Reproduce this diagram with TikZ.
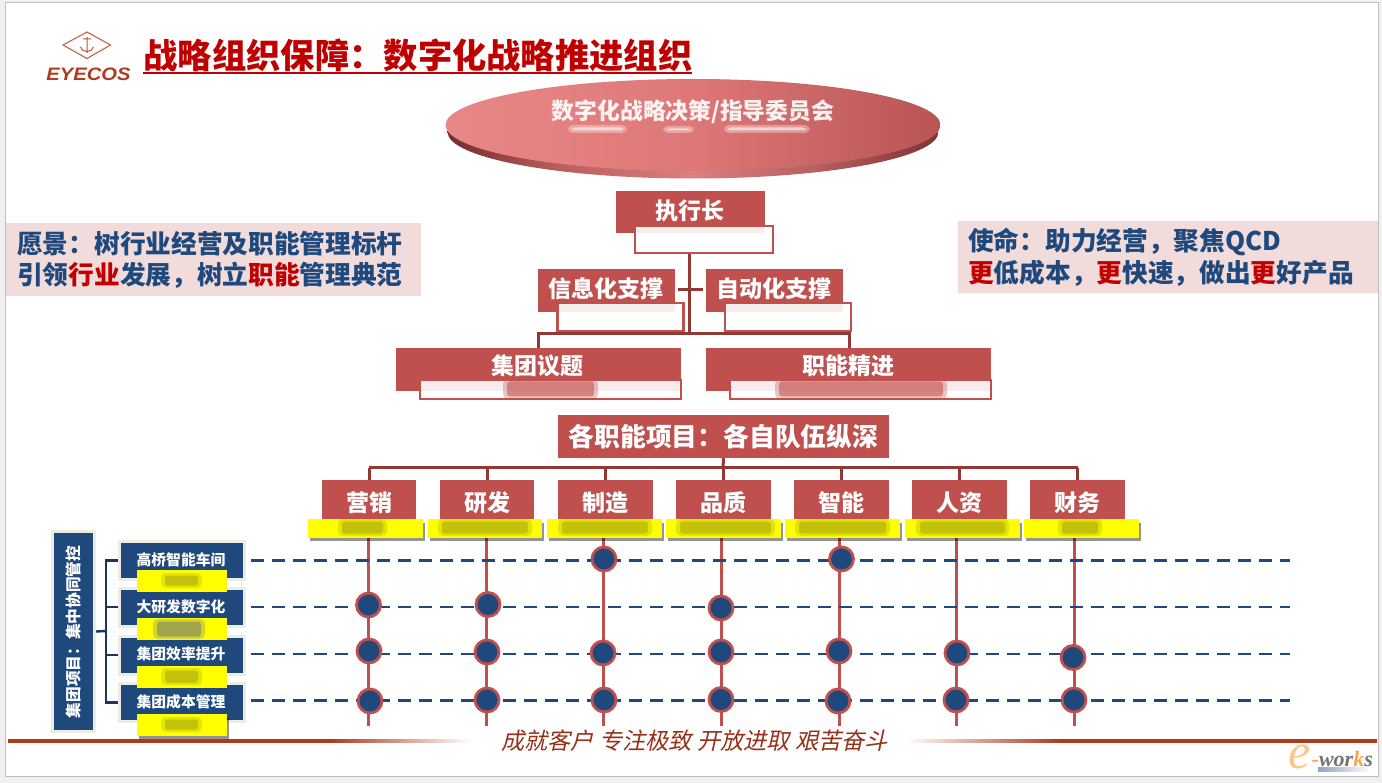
\documentclass[tikz,border=0pt]{standalone}
\usepackage{fontspec}
\setmainfont{Noto Sans CJK SC}
\newfontfamily\slantcjk[FakeSlant=0.22]{Noto Sans CJK SC}
\newfontfamily\latinbi{Liberation Serif}
\newfontfamily\latinsans{Liberation Sans}
\usetikzlibrary{shapes.geometric,shadows,calc}
\definecolor{rbox}{HTML}{C0504D}
\definecolor{rdark}{HTML}{953735}
\definecolor{navy}{HTML}{1F497D}
\definecolor{navyd}{HTML}{17375E}
\definecolor{beige}{HTML}{EEECE1}
\definecolor{pinkbg}{HTML}{F2DCDB}
\definecolor{tred}{HTML}{C00000}
\definecolor{brick}{HTML}{B03A1E}
\definecolor{smearc}{HTML}{A8A810}
\definecolor{smeargrey}{HTML}{7A7F70}
\definecolor{ypure}{HTML}{FFFF00}
\pgfdeclarehorizontalshading{disctop}{100bp}{rgb(0bp)=(.91,.53,.53);rgb(25bp)=(.91,.53,.53);rgb(50bp)=(.87,.47,.47);rgb(75bp)=(.72,.33,.33);rgb(100bp)=(.72,.33,.33)}
\pgfdeclarehorizontalshading{discedge}{100bp}{rgb(0bp)=(.45,.18,.18);rgb(25bp)=(.45,.18,.18);rgb(36bp)=(.72,.36,.36);rgb(50bp)=(.86,.50,.50);rgb(62bp)=(.72,.38,.38);rgb(75bp)=(.50,.20,.20);rgb(100bp)=(.50,.20,.20)}
\newcommand{\fsz}[1]{\fontsize{#1}{#1}\selectfont}
\newcommand{\rt}[1]{\textcolor{tred}{#1}}
% soft smudge: two nested rounded fills
\newcommand{\softblob}[5]{%
  \fill[#5,fill opacity=.32,rounded corners=5pt] (#1-2,#2-1) rectangle (#3+2,#4+1);
  \fill[#5,fill opacity=.55,rounded corners=3pt] (#1+2,#2+1.5) rectangle (#3-2,#4-1.5);
}
\tikzset{
  redbox/.style={fill=rbox,inner sep=0pt,text=white,font=\fsz{23}\bfseries},
  subbox/.style={draw=rbox,line width=2.6pt,fill=white,fill opacity=.9,inner sep=0pt},
  linkline/.style={draw=rdark,line width=3pt},
  yellowbox/.style={fill=ypure,inner sep=0pt,drop shadow={shadow xshift=1.5pt,shadow yshift=-3.5pt,fill=black,opacity=.42}},
  yellowflat/.style={fill=ypure,inner sep=0pt},
  bluebox/.style={fill=navy,draw=beige,line width=3pt,inner sep=0pt,text=white,font=\fsz{15}\bfseries},
  colline/.style={draw=rbox,line width=3pt},
  dashline/.style={draw=navy,line width=2.6pt,dash pattern=on 12.7pt off 8.3pt},
  dotnode/.style={circle,fill=navy,draw=rbox,line width=2.8pt,minimum size=24pt,inner sep=0pt},
  bracket/.style={draw=navyd,line width=2.4pt},
  panelline/.style={anchor=west,inner sep=0pt,text=navy,font=\fsz{25.7}\bfseries}
}
\begin{document}
\begin{tikzpicture}[x=1pt,y=-1pt]
\useasboundingbox (0,0) rectangle (1382,783);
\fill[black!6] (0,0) rectangle (1382,783);
\fill[white,draw=black!25,line width=1pt] (5.5,2.5) rectangle (1378,776);

% logo
\draw[brick!85,line width=1pt] (63,45) -- (87,32) -- (110.5,45) -- (87,58.5) -- cycle;
\draw[brick!85,line width=1pt] (87,37) -- (87,53) (83,39) -- (91,39) (80.5,47) .. controls (82,53) and (92,53) .. (93.5,47);
\node[inner sep=0pt,text=brick,xscale=1.12] (logotext) at (88.5,74) {\latinsans\fsz{18}\bfseries\itshape EYECOS};

% title
\node[inner sep=0pt,text=tred,font=\fsz{34.3}\bfseries] (title) at (418,55) {战略组织保障：数字化战略推进组织};
\draw[tred,line width=2.4pt] (143,73) -- (692,73);

% vision / mission
\fill[pinkbg] (6,223) rectangle (421,296);
\node[panelline] (vis1) at (17,244) {愿景：树行业经营及职能管理标杆};
\node[panelline] (vis2) at (17,275) {引领\rt{行业}发展，树立\rt{职能}管理典范};
\fill[pinkbg] (958,221) rectangle (1378,293);
\node[panelline] (mis1) at (968,242) {使命：助力经营，聚焦QCD};
\node[panelline] (mis2) at (968,273) {\rt{更}低成本，\rt{更}快速，做出\rt{更}好产品};

% committee ellipse
\node[ellipse,minimum width=491pt,minimum height=93pt,inner sep=0pt,shading=discedge] (boardbase) at (693,132) {};
\node[ellipse,minimum width=495pt,minimum height=92pt,inner sep=0pt,shading=disctop] (board) at (693,125) {};
\node[inner sep=0pt,text=white,font=\fsz{22.8}\bfseries,opacity=.9] (boardtext) at (693,112) {数字化战略决策/指导委员会};
\softblob{570}{126}{625}{132}{white}
\softblob{665}{127}{692}{132}{white}
\softblob{726}{126}{808}{132}{white}

% executive
\node[redbox,minimum width=149pt,minimum height=42pt] (ceo) at (690.5,212) {};
\node[subbox,minimum width=138pt,minimum height=27pt] (ceosub) at (704,239.5) {};
\node[inner sep=0pt,text=white,font=\fsz{23}\bfseries] (ceotext) at (689.5,210.5) {执行长};

% support
\node[redbox,minimum width=137pt,minimum height=43pt] (info) at (606.5,290.5) {};
\node[subbox,minimum width=126pt,minimum height=28pt] (infosub) at (620.5,317) {};
\node[inner sep=0pt,text=white,font=\fsz{23}\bfseries] (infotext) at (606,289) {信息化支撑};
\node[redbox,minimum width=137pt,minimum height=43pt] (auto) at (774.5,290.5) {};
\node[subbox,minimum width=126pt,minimum height=28pt] (autosub) at (788,317) {};
\node[inner sep=0pt,text=white,font=\fsz{23}\bfseries] (autotext) at (774,289) {自动化支撑};

% group / function
\node[redbox,minimum width=285pt,minimum height=43pt] (grp) at (538.5,369.5) {};
\node[subbox,minimum width=261pt,minimum height=19pt] (grpsub) at (550.5,389.5) {};
\softblob{505}{380}{596}{398}{rbox}
\node[inner sep=0pt,text=white,font=\fsz{23}\bfseries] (grptext) at (537.5,366) {集团议题};
\node[redbox,minimum width=285pt,minimum height=43pt] (fnc) at (848.5,369.5) {};
\node[subbox,minimum width=261pt,minimum height=19pt] (fncsub) at (860.5,389.5) {};
\softblob{777}{380}{945}{398}{rbox}
\node[inner sep=0pt,text=white,font=\fsz{23}\bfseries] (fnctext) at (848,366) {职能精进};

% connectors upper tree
\coordinate (busA) at (689,334);
\draw[linkline] (ceosub.south -| busA) -- (busA);
\draw[linkline] (678,290) coordinate (crossL) -- (703,290) coordinate (crossR);
\draw[linkline] (grp.north -| 538,0) -- (538,334) -- (849,334) -- (849,348);

% all functions
\node[redbox,minimum width=331pt,minimum height=43pt,font=\fsz{25.8}\bfseries] (allf) at (723.5,436.5) {各职能项目：各自队伍纵深};
\coordinate (bus) at (723,468);

% columns
\foreach \i/\cx/\bw/\nm in {1/369/94/营销,2/487/94/研发,3/605.5/95/制造,4/723.5/95/品质,5/841.5/95/智能,6/959.5/95/人资,7/1077.5/95/财务}{
  \node[redbox,minimum width=\bw pt,minimum height=39pt] (b\i) at (\cx,499.5) {};
  \node[inner sep=0pt,text=white,font=\fsz{23}\bfseries] (bt\i) at (\cx,503) {\nm};
}
\draw[linkline] (allf.south) -- (bus);
\draw[linkline] (b1.north |- bus) -- (b7.north |- bus);
\foreach \i in {1,...,7}{ \draw[linkline] (b\i.north |- bus) -- (b\i.north); }

% vertical lines (below yellow boxes)
\foreach \i/\lx in {1/368.5,2/486.5,3/603.5,4/721.5,5/839,6/956.5,7/1074}{
  \coordinate (ltop\i) at (\lx,530);
  \coordinate (lbot\i) at (\lx,726);
  \draw[colline] (ltop\i) -- (lbot\i);
}

% yellow name strips
\foreach \i/\yx/\yw in {1/365.5/115,2/485/114,3/604.5/115,4/723.5/115,5/842.5/115,6/962.5/115,7/1081.5/115}{
  \node[yellowbox,minimum width=\yw pt,minimum height=18.5pt] (y\i) at (\yx,528.3) {};
}
\softblob{340}{520}{385}{535}{smearc}
\softblob{440}{520}{530}{535}{smearc}
\softblob{560}{520}{650}{535}{smearc}
\softblob{678}{520}{773}{535}{smearc}
\softblob{797}{520}{888}{535}{smearc}
\softblob{918}{520}{1007}{535}{smearc}
\softblob{1060}{520}{1100}{535}{smearc}

% dashed rows
\foreach \r/\ry in {1/560.5,2/607,3/654,4/700.5}{
  \coordinate (ds\r) at (251,\ry);
  \coordinate (de\r) at (1290,\ry);
  \draw[dashline] (ds\r) -- (de\r);
}

% dots
\foreach \n/\dx/\dy in {a/604/559,b/841.5/559,
  c/368.5/605,d/488/604.5,e/721/608,
  f/369/651,g/487/652,h/603/653,i/721/652,j/839/651,k/957/653,l/1073/657.5,
  m/370/701,n/487/700,o/604/700,p/721/699.5,q/838/701,r/956/700,s/1074/700}{
  \node[dotnode] (dot\n) at (\dx,\dy) {};
}

% left group
\node[bluebox,minimum width=42pt,minimum height=200pt] (gbox) at (73.5,631.5) {};
\node[inner sep=0pt,text=white,font=\fsz{15.7}\bfseries,rotate=90] (gtext) at (73.5,632) {集团项目：集中协同管控};
\foreach \r/\ry in {1/560.5,2/607,3/655,4/702.5}{
  \node[bluebox,minimum width=125pt,minimum height=38pt] (rb\r) at (182,\ry) {};
}
\node[inner sep=0pt,text=white,font=\fsz{14.8}\bfseries] (rt1) at (181,560) {高桥智能车间};
\node[inner sep=0pt,text=white,font=\fsz{14.8}\bfseries] (rt2) at (181,607) {大研发数字化};
\node[inner sep=0pt,text=white,font=\fsz{14.8}\bfseries] (rt3) at (181,654) {集团效率提升};
\node[inner sep=0pt,text=white,font=\fsz{14.8}\bfseries] (rt4) at (181,702) {集团成本管理};
\node[yellowflat,minimum width=90pt,minimum height=21.7pt] (ry1) at (182,581) {};
\node[yellowflat,minimum width=90pt,minimum height=21.7pt] (ry2) at (182,629) {};
\node[yellowflat,minimum width=90pt,minimum height=21.7pt] (ry3) at (182,677) {};
\node[yellowbox,minimum width=90pt,minimum height=21.7pt] (ry4) at (182,725) {};
\softblob{163}{574}{200}{587}{smearc}
\softblob{155}{620}{203}{638}{smeargrey}
\softblob{163}{669}{200}{684}{smearc}
\softblob{163}{718}{200}{731}{smearc}
% bracket
\coordinate (brk) at (106,631);
\draw[bracket] (gbox.east) -- (brk);
\draw[bracket] (rb1.west) -- (rb1.west -| brk) -- (rb4.west -| brk) -- (rb4.west);
\draw[bracket] (rb2.west) -- (rb2.west -| brk);
\draw[bracket] (rb3.west) -- (rb3.west -| brk);

% bottom rule and motto
\fill[brick] (8,739.3) rectangle (330,742.8);
\fill[left color=brick,right color=white] (330,739.3) rectangle (472,742.8);
\fill[left color=white,right color=brick] (905,739.3) rectangle (1060,742.8);
\fill[brick] (1060,739.3) rectangle (1377,742.8);
\node[inner sep=0pt,text=brick!85!black] (motto) at (694.5,741) {\slantcjk\fsz{23.2}成就客户 专注极致 开放进取 艰苦奋斗};

% e-works mark
\node[inner sep=0pt,text=orange!45!white,anchor=east] (ewe) at (1311,757) {\latinbi\fsz{50}\itshape e};
\node[inner sep=0pt,anchor=west] (ewt) at (1311.5,758.5) {\latinbi\fsz{22}\bfseries\itshape\textcolor{orange!70!white}{-}\textcolor{black!55}{wor}\textcolor{orange!70!white}{k}\textcolor{black!55}{s}};
\fill[left color=navy!50!white,right color=white] (1318,767.5) rectangle (1370,771.5);
\end{tikzpicture}
\end{document}
